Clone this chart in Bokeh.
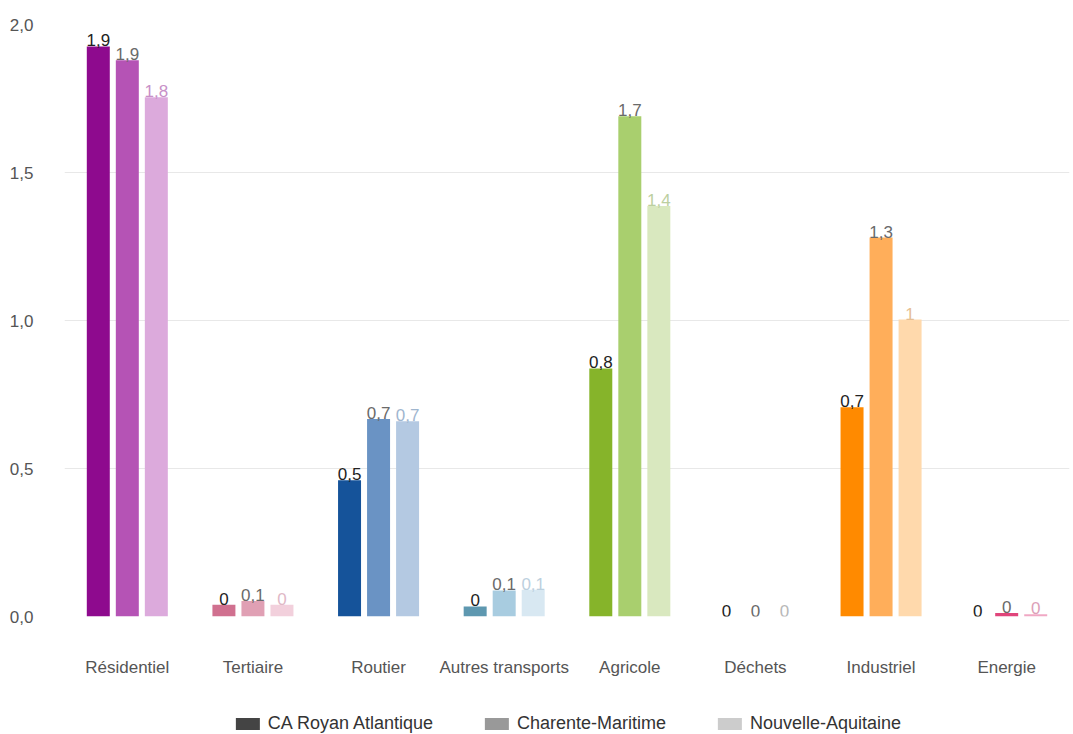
from bokeh.plotting import figure
from bokeh.layouts import column
from bokeh.models import ColumnDataSource, FixedTicker, Legend, LegendItem
from bokeh.transform import dodge
from bokeh.core.properties import value
from bokeh.embed import file_html
from bokeh.resources import INLINE

categories = ["Résidentiel", "Tertiaire", "Routier", "Autres transports",
              "Agricole", "Déchets", "Industriel", "Energie"]
series = ["CA Royan Atlantique", "Charente-Maritime", "Nouvelle-Aquitaine"]

royan = [1.926, 0.04, 0.46, 0.034, 0.838, 0.0, 0.707, 0.0]
charente = [1.879, 0.052, 0.667, 0.088, 1.69, 0.0, 1.28, 0.012]
nouvelle = [1.754, 0.04, 0.66, 0.09, 1.387, 0.0, 1.003, 0.008]

colors_royan = ["#8e0a8e", "#d0708f", "#15539a", "#5e98b0", "#86b42a", "#6b6b6b", "#ff8a00", "#c2185b"]
colors_charente = ["#b553b5", "#e0a0b4", "#6a93c4", "#a8cce0", "#a9cf6e", "#a0a0a0", "#ffae5a", "#e0457b"]
colors_nouvelle = ["#dcaadc", "#f2d0dc", "#b4c9e2", "#d8e8f2", "#d9e8bf", "#c8c8c8", "#ffd9ac", "#f0a8c4"]
label_colors_nouvelle = ["#c890c8", "#e0b8c6", "#9fb6cf", "#bcd0de", "#bccfa0", "#b8b8b8", "#e6bf94", "#dca0b8"]

y_ticks = [0.0, 0.5, 1.0, 1.5, 2.0]
legend_colors = ["#444444", "#999999", "#cccccc"]


def fmt(v):
    s = f"{v:.1f}".replace(".", ",")
    if s.endswith(",0"):
        s = s[:-2]
    return s


FONT = "Liberation Sans"

p = figure(x_range=categories, y_range=(0, 2.0), width=1073, height=690,
           output_backend="svg", toolbar_location=None,
           min_border_left=64, min_border_right=4, min_border_top=24,
           min_border_bottom=74)
p.outline_line_color = None
p.background_fill_color = "white"
p.border_fill_color = "white"

p.xgrid.grid_line_color = None
p.ygrid.grid_line_color = "#e8e8e8"
p.ygrid.grid_line_width = 1

p.yaxis.ticker = FixedTicker(ticks=y_ticks)
p.yaxis.major_label_overrides = {t: f"{t:.1f}".replace(".", ",") for t in y_ticks}
for ax in (p.xaxis, p.yaxis):
    ax.axis_line_color = None
    ax.major_tick_line_color = None
    ax.minor_tick_line_color = None
    ax.major_label_text_font = FONT
    ax.major_label_text_font_size = "17px"
    ax.major_label_text_color = "#555555"
p.yaxis.major_label_standoff = 25
p.xaxis.major_label_standoff = 35

offsets = [-0.231, 0.0, 0.231]
vals = [royan, charente, nouvelle]
cols = [colors_royan, colors_charente, colors_nouvelle]
label_cols = [["#222222"] * 8, ["#6a6a6a"] * 8, label_colors_nouvelle]

for off, v, c, lc in zip(offsets, vals, cols, label_cols):
    src = ColumnDataSource(dict(cat=categories, val=v, color=c,
                                lbl=[fmt(x) for x in v], lcolor=lc))
    p.vbar(x=dodge("cat", off, range=p.x_range), top="val", width=0.183,
           source=src, fill_color="color", line_color=None)
    p.text(x=dodge("cat", off, range=p.x_range), y="val", text="lbl", source=src,
           text_align="center", text_baseline="bottom",
           text_font=value(FONT), text_font_size="17px", text_color="lcolor")

# legend strip
p2 = figure(width=1073, height=44, output_backend="svg", toolbar_location=None,
            x_range=(0, 1), y_range=(0, 1),
            min_border_left=0, min_border_right=0, min_border_top=0,
            min_border_bottom=0)
p2.outline_line_color = None
p2.axis.visible = False
p2.grid.visible = False

items = []
for name, col in zip(series, legend_colors):
    r = p2.vbar(x=[0.5], top=[0], bottom=[0], width=0.0001,
                fill_color=col, line_color=None)
    items.append(LegendItem(label=name, renderers=[r]))

legend = Legend(items=items, orientation="horizontal", location="bottom_center",
                label_text_font=FONT, label_text_font_size="18px",
                label_text_color="#333333", glyph_width=30, glyph_height=15,
                label_standoff=6, spacing=48, border_line_color=None,
                background_fill_alpha=0, margin=0, padding=3)
p2.add_layout(legend, "center")

layout = column(p, p2, spacing=0)
open("out.html", "w").write(file_html(layout, INLINE))
